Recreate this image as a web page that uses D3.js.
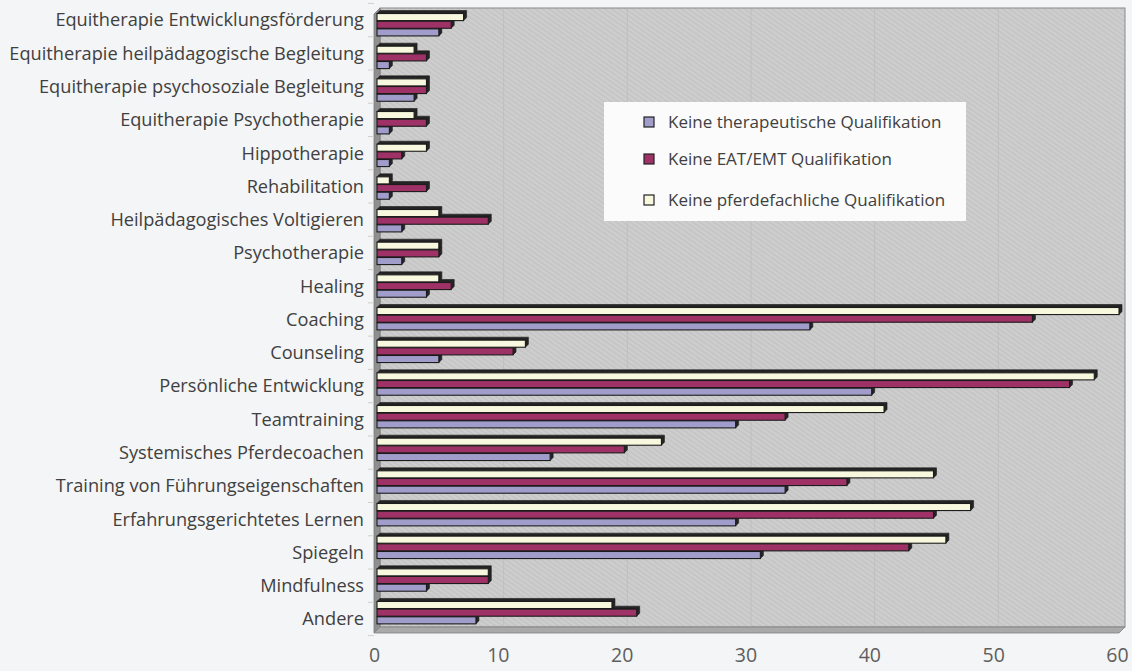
<!DOCTYPE html>
<html>
<head>
<meta charset="utf-8">
<script src="https://cdn.jsdelivr.net/npm/d3@7"></script>
<style>
  body { margin: 0; background: #f4f5f6; }
  svg { display: block; }
</style>
</head>
<body>
<svg id="chart" width="1132" height="671"></svg>
<script>
// Tätigkeitsfelder, von oben nach unten
const categories = [
  "Equitherapie Entwicklungsförderung",
  "Equitherapie heilpädagogische Begleitung",
  "Equitherapie psychosoziale Begleitung",
  "Equitherapie Psychotherapie",
  "Hippotherapie",
  "Rehabilitation",
  "Heilpädagogisches Voltigieren",
  "Psychotherapie",
  "Healing",
  "Coaching",
  "Counseling",
  "Persönliche Entwicklung",
  "Teamtraining",
  "Systemisches Pferdecoachen",
  "Training von Führungseigenschaften",
  "Erfahrungsgerichtetes Lernen",
  "Spiegeln",
  "Mindfulness",
  "Andere"
];

const seriesNames = [
  "Keine therapeutische Qualifikation",
  "Keine EAT/EMT Qualifikation",
  "Keine pferdefachliche Qualifikation"
];

const therapeutisch  = [5, 1, 3, 1, 1, 1, 2, 2, 4, 35, 5, 40, 29, 14, 33, 29, 31, 4, 8];
const eatEmt         = [6, 4, 4, 4, 2, 4, 9, 5, 6, 53, 11, 56, 33, 20, 38, 45, 43, 9, 21];
const pferdefachlich = [7, 3, 4, 3, 4, 1, 5, 5, 5, 60, 12, 58, 41, 23, 45, 48, 46, 9, 19];

const xTicks = [0, 10, 20, 30, 40, 50, 60];

const seriesColors = ["#a19dcb", "#9e3166", "#f8f8de"];

const series = [
  { key: "ther",  name: seriesNames[0], values: therapeutisch,  color: seriesColors[0] },
  { key: "eat",   name: seriesNames[1], values: eatEmt,         color: seriesColors[1] },
  { key: "pferd", name: seriesNames[2], values: pferdefachlich, color: seriesColors[2] }
];

const svg = d3.select("#chart");
const defs = svg.append("defs");

// leichte Diagonalstruktur der Rückwand
const pat = defs.append("pattern")
  .attr("id", "wallTexture")
  .attr("patternUnits", "userSpaceOnUse")
  .attr("width", 4).attr("height", 4)
  .attr("patternTransform", "rotate(35)");
pat.append("rect").attr("width", 4).attr("height", 4).attr("fill", "#cbcbcb");
pat.append("rect").attr("width", 4).attr("height", 1).attr("fill", "#c3c3c3");
pat.append("rect").attr("y", 2).attr("width", 4).attr("height", 0.8).attr("fill", "#d1d1d1");

// Geometrie der 3D-Darstellung
const depth = 3;
const wallLeft = 380, wallRight = 1125, wallTop = 8, wallBottom = 627;
const frontShift = 6;

// Skalen
const x = d3.scaleLinear().domain([0, 60]).range([377, 1119]);
const xAxisScale = d3.scaleLinear().domain([0, 60]).range([374, 1117]);

const yBars = d3.scaleBand().domain(categories).range([8.7, 629.3]);
const yLabels = d3.scaleBand().domain(categories).range([3.4, 635.6]);
const ySeries = d3.scaleBand()
  .domain(["pferd", "eat", "ther"])
  .range([-11.5, 11.5]);

// Rückwand
svg.append("rect")
  .attr("x", wallLeft).attr("y", wallTop)
  .attr("width", wallRight - wallLeft).attr("height", wallBottom - wallTop)
  .attr("fill", "url(#wallTexture)")
  .attr("stroke", "#8a8a8a").attr("stroke-width", 1);

// Gitterlinien
svg.append("g")
  .selectAll("line")
  .data(xTicks.slice(1, -1))
  .join("line")
  .attr("x1", d => x(d) + 3).attr("x2", d => x(d) + 3)
  .attr("y1", wallTop + 1).attr("y2", wallBottom)
  .attr("stroke", "#bcbcbc").attr("stroke-width", 0.8);

// linke Seitenwand
svg.append("path")
  .attr("d", `M${wallLeft - frontShift},${wallTop + frontShift} L${wallLeft},${wallTop} L${wallLeft},${wallBottom} L${wallLeft - frontShift},${wallBottom + frontShift} Z`)
  .attr("fill", "#8f8f8f").attr("stroke", "#7a7a7a").attr("stroke-width", 0.8);

// Boden
svg.append("path")
  .attr("d", `M${wallLeft - frontShift},${wallBottom + frontShift} L${wallLeft},${wallBottom} L${wallRight},${wallBottom} L${wallRight - frontShift},${wallBottom + frontShift} Z`)
  .attr("fill", "#a9a9a9").attr("stroke", "#808080").attr("stroke-width", 0.8);

// Balken
const barH = ySeries.bandwidth() - 0.6;
const drawOrder = ["ther", "eat", "pferd"]; // unten zuerst, damit obere Balken überdecken

const groups = svg.append("g").selectAll("g.cat")
  .data(categories)
  .join("g")
  .attr("class", "cat")
  .attr("transform", d => `translate(0,${yBars(d) + yBars.bandwidth() / 2})`);

groups.each(function (cat, i) {
  const g = d3.select(this);
  drawOrder.forEach(key => {
    const s = series.find(o => o.key === key);
    const v = s.values[i];
    const x0 = x(0), x1 = x(v);
    const y0 = ySeries(key);
    // obere und rechte Seitenfläche
    g.append("path")
      .attr("d", `M${x0},${y0} L${x0 + depth},${y0 - depth} L${x1 + depth},${y0 - depth} L${x1 + depth},${y0 + barH - depth} L${x1},${y0 + barH} L${x1},${y0} Z`)
      .attr("fill", "#242424")
      .attr("stroke", "#1a1a1a").attr("stroke-width", 0.6);
    // Vorderseite
    g.append("rect")
      .attr("x", x0).attr("y", y0)
      .attr("width", Math.max(0, x1 - x0)).attr("height", barH)
      .attr("fill", s.color)
      .attr("stroke", "#1c1c1c").attr("stroke-width", 1.1);
  });
});

// Kategorienachse
const yAxisG = svg.append("g").attr("transform", `translate(${wallLeft - frontShift - 6},0)`);
yAxisG.selectAll("text")
  .data(categories)
  .join("text")
  .attr("x", -4)
  .attr("y", d => yLabels(d) + yLabels.bandwidth() / 2)
  .attr("dy", "0.35em")
  .attr("text-anchor", "end")
  .attr("font-family", "'Open Sans', sans-serif")
  .attr("font-size", 18.2)
  .attr("fill", "#404040")
  .text(d => d);

yAxisG.selectAll("line")
  .data(categories.concat([null]))
  .join("line")
  .attr("x1", 0).attr("x2", 6)
  .attr("y1", (d, i) => yLabels.range()[0] + i * yLabels.step())
  .attr("y2", (d, i) => yLabels.range()[0] + i * yLabels.step())
  .attr("stroke", "#d0d0d0").attr("stroke-width", 1);

// Werteachse
const xAxis = d3.axisBottom(xAxisScale).tickValues(xTicks).tickSize(0).tickPadding(0);
const xAxisG = svg.append("g")
  .attr("transform", `translate(0,${wallBottom + frontShift})`)
  .call(xAxis);
xAxisG.select(".domain").remove();
xAxisG.selectAll("text")
  .attr("y", 15)
  .attr("font-family", "'Open Sans', sans-serif")
  .attr("font-size", 19.5)
  .attr("fill", "#5e5e5e");

// Legende
const legend = svg.append("g").attr("transform", "translate(604,102)");
legend.append("rect")
  .attr("width", 362).attr("height", 119)
  .attr("fill", "#fbfbfb");
const legendY = [20, 57, 98];
legend.selectAll("g.item")
  .data(series)
  .join("g")
  .attr("class", "item")
  .attr("transform", (d, i) => `translate(40,${legendY[i]})`)
  .each(function (d) {
    const it = d3.select(this);
    it.append("rect")
      .attr("x", 0).attr("y", -5)
      .attr("width", 10).attr("height", 10)
      .attr("fill", d.color)
      .attr("stroke", "#222").attr("stroke-width", 1.2);
    it.append("text")
      .attr("x", 24).attr("y", 0).attr("dy", "0.35em")
      .attr("font-family", "'Open Sans', sans-serif")
      .attr("font-size", 17)
      .attr("fill", "#404040")
      .text(d.name);
  });
</script>
</body>
</html>
